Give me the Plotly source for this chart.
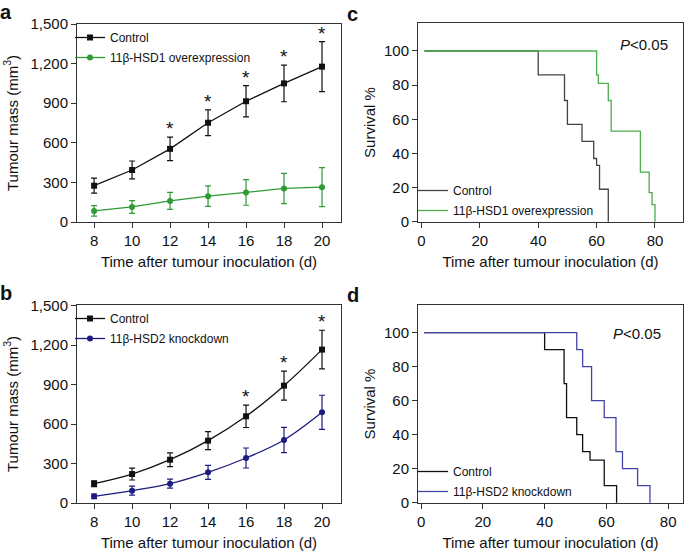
import plotly.graph_objects as go

# ---------------- data ----------------
days = [8, 10, 12, 14, 16, 18, 20]

a_ctrl_mean = [275, 394, 554, 752, 915, 1050, 1177]
a_ctrl_err = [57, 68, 89, 98, 118, 139, 190]
a_hsd1_mean = [84, 114, 160, 196, 224, 254, 264]
a_hsd1_err = [40, 48, 65, 78, 97, 115, 148]
a_star_days = [12, 14, 16, 18, 20]

b_ctrl_mean = [147, 220, 329, 474, 659, 892, 1166]
b_ctrl_err = [22, 45, 52, 68, 85, 110, 147]
b_hsd2_mean = [51, 94, 147, 233, 342, 479, 689]
b_hsd2_err = [17, 34, 34, 53, 76, 96, 130]
b_star_days = [16, 18, 20]

mass_ticks = [0, 300, 600, 900, 1200, 1500]

c_ctrl_t = [1, 40, 49, 50, 55, 59, 60, 61, 64]
c_ctrl_s = [100, 86, 71, 57, 47, 37, 33, 19, 0]
c_hsd1_t = [1, 60, 60.6, 64, 65, 75, 78, 79, 80]
c_hsd1_s = [100, 86, 81, 71, 53, 29, 17, 10, 0]

d_ctrl_t = [1, 40, 46.3, 47.1, 50.4, 52.3, 54.7, 59.3, 63.3]
d_ctrl_s = [100, 90, 70, 50, 40, 30, 25, 10, 0]
d_hsd2_t = [1, 50.4, 52.3, 55.2, 59.3, 63.1, 65.2, 70.1, 74.1]
d_hsd2_s = [100, 90, 80, 60, 50, 30, 20, 10, 0]

surv_ticks = [0, 20, 40, 60, 80, 100]
time_ticks = [0, 20, 40, 60, 80]

# ---------------- style ----------------
FONT = "Liberation Sans, Arial, sans-serif"
BLACK = "#111111"
GREEN_A = "#2f9a35"
NAVY_B = "#1c1c80"
GRAY_C = "#444444"
GREEN_C = "#4cae4c"
BLUE_D = "#4444a8"

W, H = 685, 551


def px_x(x0, x1):
    return [x0 / W, x1 / W]


def px_y(top, bottom):
    return [1 - bottom / H, 1 - top / H]


fig = go.Figure()


def growth(x, m, e, color, sym, name, xa, ya, leg, shape, grp):
    fig.add_trace(go.Scatter(
        x=x, y=m, name=name, mode="lines+markers", xaxis=xa, yaxis=ya, legend=leg, legendgroup=grp,
        line=dict(color=color, width=1.3, shape=shape),
        marker=dict(color=color, symbol=sym, size=6),
        error_y=dict(type="data", array=e, visible=True, color=color, thickness=1.2, width=3),
    ))


growth(days, a_ctrl_mean, a_ctrl_err, BLACK, "square", "Control", "x", "y", "legend", "linear", "a1")
growth(days, a_hsd1_mean, a_hsd1_err, GREEN_A, "circle", "11β-HSD1 overexpression", "x", "y", "legend", "linear", "a2")
growth(days, b_ctrl_mean, b_ctrl_err, BLACK, "square", "Control", "x3", "y3", "legend3", "spline", "b1")
growth(days, b_hsd2_mean, b_hsd2_err, NAVY_B, "circle", "11β-HSD2 knockdown", "x3", "y3", "legend3", "spline", "b2")


def km(t, s, color, name, xa, ya, leg, grp):
    fig.add_trace(go.Scatter(
        x=t, y=s, name=name, mode="lines", xaxis=xa, yaxis=ya, legend=leg, legendgroup=grp,
        line=dict(color=color, width=1.3, shape="hv"),
    ))


km(c_ctrl_t, c_ctrl_s, GRAY_C, "Control", "x2", "y2", "legend2", "c1")
km(c_hsd1_t, c_hsd1_s, GREEN_C, "11β-HSD1 overexpression", "x2", "y2", "legend2", "c2")
km(d_ctrl_t, d_ctrl_s, BLACK, "Control", "x4", "y4", "legend4", "d1")
km(d_hsd2_t, d_hsd2_s, BLUE_D, "11β-HSD2 knockdown", "x4", "y4", "legend4", "d2")

annotations = []
# significance stars
for sd in a_star_days:
    i = days.index(sd)
    annotations.append(dict(x=sd, y=a_ctrl_mean[i] + a_ctrl_err[i], xref="x", yref="y",
                            text="*", showarrow=False, yanchor="bottom", yshift=-4,
                            font=dict(size=19, color=BLACK, family=FONT)))
for sd in b_star_days:
    i = days.index(sd)
    annotations.append(dict(x=sd, y=b_ctrl_mean[i] + b_ctrl_err[i], xref="x3", yref="y3",
                            text="*", showarrow=False, yanchor="bottom", yshift=-4,
                            font=dict(size=19, color=BLACK, family=FONT)))
# P values
annotations.append(dict(x=644 / W, y=1 - 45 / H, xref="paper", yref="paper", text="<i>P</i><0.05",
                        showarrow=False, xanchor="center", yanchor="middle",
                        font=dict(size=15, color=BLACK, family=FONT)))
annotations.append(dict(x=637 / W, y=1 - 333 / H, xref="paper", yref="paper", text="<i>P</i><0.05",
                        showarrow=False, xanchor="center", yanchor="middle",
                        font=dict(size=15, color=BLACK, family=FONT)))
# panel letters
for letter, x, y in [("a", 6, 12), ("c", 353, 14), ("b", 6, 293), ("d", 353, 295)]:
    annotations.append(dict(x=x / W, y=1 - y / H, xref="paper", yref="paper", text="<b>%s</b>" % letter,
                            showarrow=False, xanchor="center", yanchor="middle",
                            font=dict(size=20, color=BLACK, family=FONT)))

axis_common = dict(showline=True, mirror=True, linecolor="#333333", linewidth=1,
                   ticks="outside", ticklen=5, tickwidth=1, tickcolor="#333333",
                   showgrid=False, zeroline=False, automargin=False,
                   tickfont=dict(size=15, color=BLACK, family=FONT))
xtitle = dict(text="Time after tumour inoculation (d)", font=dict(size=15, color=BLACK, family=FONT), standoff=8)

legend_common = dict(bgcolor="rgba(0,0,0,0)", borderwidth=0, itemwidth=30,
                     font=dict(size=12, color=BLACK, family=FONT),
                     xanchor="left", yanchor="top", tracegroupgap=1)

fig.update_layout(
    width=W, height=H, margin=dict(l=0, r=0, t=0, b=0, autoexpand=False),
    paper_bgcolor="white", plot_bgcolor="white",
    font=dict(family=FONT, color=BLACK),
    showlegend=True,
    xaxis=dict(domain=px_x(77, 341), anchor="y", range=[7.1, 21.0], tickvals=days, title=xtitle, **axis_common),
    yaxis=dict(domain=px_y(24, 222), anchor="x", range=[0, 1500], tickvals=mass_ticks, tickformat=",",
               title=dict(text="Tumour mass (mm<sup>3</sup>)", font=dict(size=15, color=BLACK, family=FONT), standoff=8),
               **axis_common),
    xaxis2=dict(domain=px_x(418, 683), anchor="y2", range=[-1.2, 89.6], tickvals=time_ticks, title=xtitle, **axis_common),
    yaxis2=dict(domain=px_y(23, 222), anchor="x2", range=[-0.2, 116.4], tickvals=surv_ticks,
                title=dict(text="Survival %", font=dict(size=15, color=BLACK, family=FONT), standoff=4),
                **axis_common),
    xaxis3=dict(domain=px_x(77, 341), anchor="y3", range=[7.1, 21.0], tickvals=days, title=xtitle, **axis_common),
    yaxis3=dict(domain=px_y(305, 503), anchor="x3", range=[0, 1505], tickvals=mass_ticks, tickformat=",",
                title=dict(text="Tumour mass (mm<sup>3</sup>)", font=dict(size=15, color=BLACK, family=FONT), standoff=8),
                **axis_common),
    xaxis4=dict(domain=px_x(418, 683), anchor="y4", range=[-1.0, 84.8], tickvals=time_ticks, title=xtitle, **axis_common),
    yaxis4=dict(domain=px_y(305, 503), anchor="x4", range=[-0.2, 116.2], tickvals=surv_ticks,
                title=dict(text="Survival %", font=dict(size=15, color=BLACK, family=FONT), standoff=4),
                **axis_common),
    legend=dict(x=70 / W, y=1 - 23 / H, **legend_common),
    legend2=dict(x=413 / W, y=1 - 176 / H, **legend_common),
    legend3=dict(x=70 / W, y=1 - 304 / H, **legend_common),
    legend4=dict(x=413 / W, y=1 - 457 / H, **legend_common),
    annotations=annotations,
)

fig.write_html("out.html", config={"displayModeBar": False},
               post_script="document.body.style.margin='0';document.body.style.overflow='hidden';")
